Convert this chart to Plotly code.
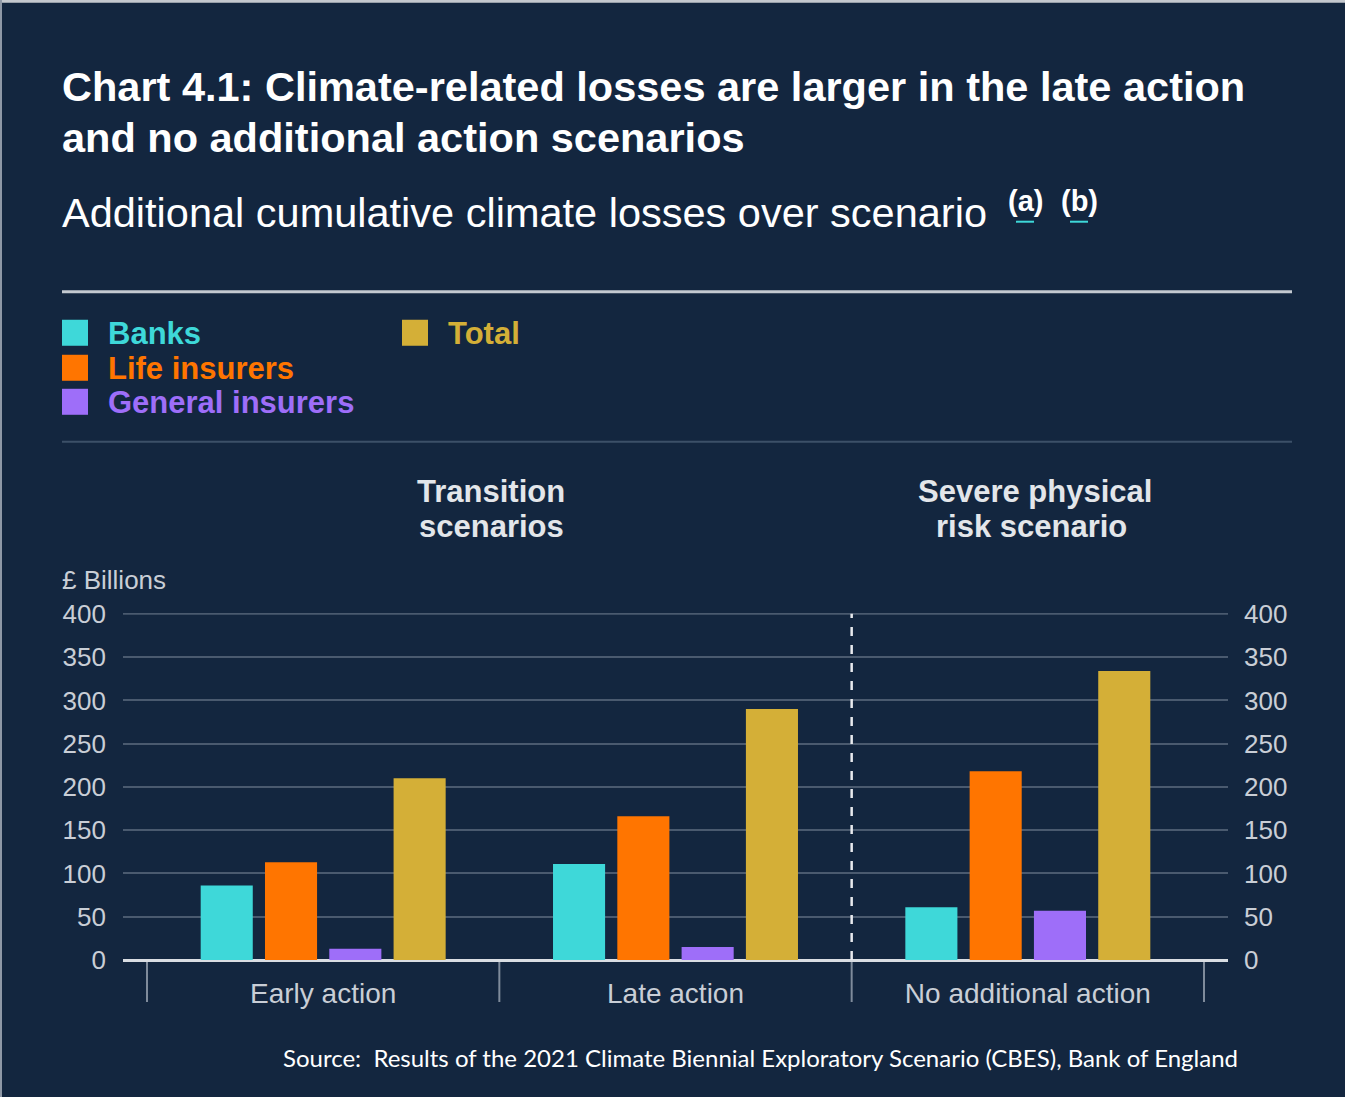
import plotly.graph_objects as go

categories = ["Early action", "Late action", "No additional action"]
series_names = ["Banks", "Life insurers", "General insurers", "Total"]
banks = [86, 111, 61]
life_insurers = [113, 166, 218]
general_insurers = [13, 15, 57]
total = [210, 290, 334]
series_values = [banks, life_insurers, general_insurers, total]
colors = ["#3ED8D9", "#FF7500", "#9E6EF9", "#D4AF37"]
y_ticks = [0, 50, 100, 150, 200, 250, 300, 350, 400]

W, H = 1345, 1097
YMAX = 401
L, R, B = 123, 1228, 960
T = B - 346 * YMAX / 400
BG = "#13263F"
TXT = "#C9CED6"
GRID = "#4A5A6F"
FONT = "Liberation Sans, Arial"


def px(x):
    return (x - L) / (R - L)


def py(y):
    return (B - y) / (B - T)


fig = go.Figure()
for name, vals, col in zip(series_names, series_values, colors):
    fig.add_trace(go.Bar(x=categories, y=vals, name=name, marker_color=col,
                         marker_line_width=0, showlegend=False, hoverinfo="y"))
# invisible trace for the right-hand axis
fig.add_trace(go.Scatter(x=categories, y=total, yaxis="y2", mode="markers",
                         marker_opacity=0, showlegend=False, hoverinfo="skip"))

shapes = []
ann = []

# page border lines (top and left)
shapes.append(dict(type="rect", xref="paper", yref="paper", x0=px(0), x1=px(W),
                   y0=py(3), y1=py(0), fillcolor="#C4C8CE", line_width=0, layer="below"))
shapes.append(dict(type="rect", xref="paper", yref="paper", x0=px(0), x1=px(2),
                   y0=py(H), y1=py(0), fillcolor="#8E98A6", line_width=0, layer="below"))

# top gridline (at the 400 tick)
shapes.append(dict(type="line", xref="paper", yref="y", x0=0, x1=1, y0=y_ticks[-1], y1=y_ticks[-1],
                   line=dict(color=GRID, width=2), layer="below"))

# separators
shapes.append(dict(type="line", xref="paper", yref="paper", x0=px(62), x1=px(1292),
                   y0=py(292), y1=py(292), line=dict(color="#C3C9D0", width=3)))
shapes.append(dict(type="line", xref="paper", yref="paper", x0=px(62), x1=px(1292),
                   y0=py(442), y1=py(442), line=dict(color="#3C5068", width=2)))

# category boundary ticks below axis
for xb in [-0.5, 0.5, 1.5, 2.5]:
    shapes.append(dict(type="line", xref="x", yref="paper", x0=xb, x1=xb,
                       y0=py(962), y1=py(1002), line=dict(color="#7F8B9B", width=2)))
# dashed divider
shapes.append(dict(type="line", xref="x", yref="y", x0=1.5, x1=1.5, y0=0, y1=400,
                   line=dict(color="#E8EAEE", width=2.5, dash="dash")))

# Title
ann.append(dict(text="<b>Chart 4.1: Climate-related losses are larger in the late action</b>",
                x=px(60), y=py(87), xanchor="left", yanchor="middle",
                font=dict(size=41.5, color="white", family=FONT)))
ann.append(dict(text="<b>and no additional action scenarios</b>",
                x=px(60), y=py(138), xanchor="left", yanchor="middle",
                font=dict(size=41.5, color="white", family=FONT)))
ann.append(dict(text="Additional cumulative climate losses over scenario",
                x=px(60), y=py(213), xanchor="left", yanchor="middle",
                font=dict(size=41.5, color="white", family=FONT)))
for lab, xc in [("(a)", 1025), ("(b)", 1079)]:
    ann.append(dict(text="<b>" + lab + "</b>", x=px(xc), y=py(201), xanchor="center", yanchor="middle",
                    font=dict(size=29, color="white", family=FONT)))
    shapes.append(dict(type="line", xref="paper", yref="paper", x0=px(xc - 9), x1=px(xc + 9),
                       y0=py(222), y1=py(222), line=dict(color="#3ED8D9", width=2)))

# Legend (manual)
leg_pos = [(62, 333), (62, 368), (62, 402), (402, 333)]
for (lx, ly), name, col in zip(leg_pos, series_names, colors):
    shapes.append(dict(type="rect", xref="paper", yref="paper", x0=px(lx), x1=px(lx + 26),
                       y0=py(ly - 13), y1=py(ly + 13), fillcolor=col, line_width=0))
    ann.append(dict(text="<b>" + name + "</b>", x=px(lx + 44), y=py(ly + 1), xanchor="left",
                    yanchor="middle", font=dict(size=31, color=col, family=FONT)))

# Group headers
ann.append(dict(text="<b>Transition</b>", x=px(491), y=py(492), xanchor="center",
                yanchor="middle", font=dict(size=31, color="#E3E6EA", family=FONT)))
ann.append(dict(text="<b>scenarios</b>", x=px(491), y=py(527), xanchor="center",
                yanchor="middle", font=dict(size=31, color="#E3E6EA", family=FONT)))
ann.append(dict(text="<b>Severe physical</b>", x=px(1035), y=py(492), xanchor="center",
                yanchor="middle", font=dict(size=31, color="#E3E6EA", family=FONT)))
ann.append(dict(text="<b>risk scenario</b>", x=px(1031), y=py(527), xanchor="center",
                yanchor="middle", font=dict(size=31, color="#E3E6EA", family=FONT)))

# Unit label
ann.append(dict(text="£ Billions", x=px(60), y=py(580), xanchor="left", yanchor="middle",
                font=dict(size=26, color=TXT, family=FONT)))

# Source
ann.append(dict(text="Source:  Results of the 2021 Climate Biennial Exploratory Scenario (CBES), Bank of England",
                x=px(1240), y=py(1057), xanchor="right", yanchor="middle",
                font=dict(size=24, color="white", family="Lato, Inter, sans-serif")))

for a in ann:
    a.update(xref="paper", yref="paper", showarrow=False)

pad = 24 / 352
fig.update_layout(
    width=W, height=H,
    margin=dict(l=L, r=W - R, t=T, b=H - B, pad=0),
    paper_bgcolor=BG, plot_bgcolor=BG,
    barmode="group", bargap=0.27, bargroupgap=0.19,
    shapes=shapes, annotations=ann,
    xaxis=dict(type="category", range=[-0.5 - pad, 2.5 + pad], showgrid=False, showline=False,
               ticks="", tickfont=dict(size=28, color=TXT, family=FONT),
               ticklabelstandoff=14, fixedrange=True),
    yaxis=dict(range=[0, YMAX], tickvals=y_ticks, showgrid=True, gridcolor=GRID, gridwidth=2,
               zeroline=True, zerolinecolor="#D9DDE2", zerolinewidth=3, showline=False, ticks="",
               tickfont=dict(size=26, color=TXT, family=FONT),
               ticklabelstandoff=16, fixedrange=True),
    yaxis2=dict(range=[0, YMAX], tickvals=y_ticks, overlaying="y", side="right", showgrid=False,
                zeroline=False, showline=False, ticks="",
                tickfont=dict(size=26, color=TXT, family=FONT),
                ticklabelstandoff=15, fixedrange=True),
    font=dict(family=FONT, color=TXT),
)

fig.write_html("out.html", config={"displayModeBar": False},
               post_script="document.body.style.margin='0';document.body.style.padding='0';")
